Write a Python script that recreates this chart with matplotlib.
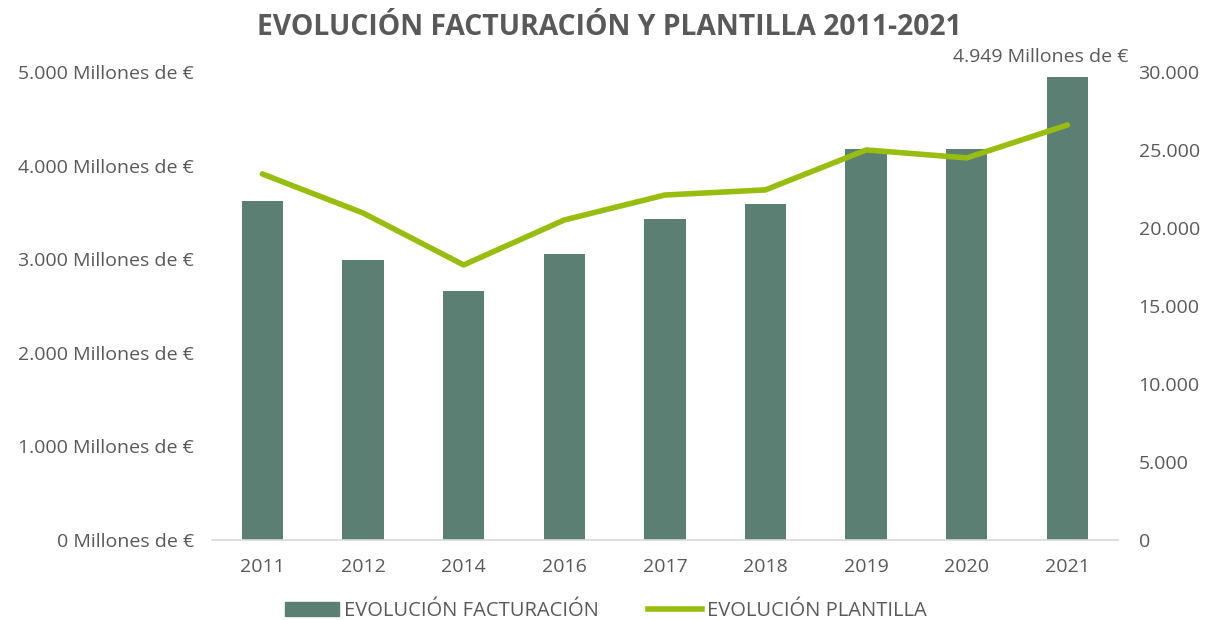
import matplotlib
matplotlib.use("Agg")
import matplotlib.pyplot as plt
from matplotlib.ticker import FuncFormatter
from matplotlib.lines import Line2D
from matplotlib.patches import Patch

years = ["2011", "2012", "2014", "2016", "2017", "2018", "2019", "2020", "2021"]
facturacion = [3622, 2991, 2660, 3056, 3429, 3590, 4177, 4177, 4949]
plantilla = [23460, 20960, 17630, 20510, 22110, 22440, 25000, 24490, 26600]
left_ticks = [0, 1000, 2000, 3000, 4000, 5000]
right_ticks = [0, 5000, 10000, 15000, 20000, 25000, 30000]

BAR = "#5B7F72"
LINE = "#97BD0E"
TXT = "#595959"
FONT = "Open Sans"
plt.rcParams['font.family'] = [FONT, 'DejaVu Sans']

def fmt(v):
    return f"{int(v):,}".replace(",", ".")

fig = plt.figure(figsize=(12.07, 6.2), dpi=100)
ax = fig.add_axes([0.1757, 0.129, 0.7503, 0.755])
ax2 = ax.twinx()

x = list(range(len(years)))
ax.bar(x, facturacion, width=0.41, color=BAR, zorder=2)
ax2.plot(x, plantilla, color=LINE, lw=4, solid_capstyle='round', zorder=3)

ax.set_xlim(-0.5, len(years) - 0.5)
ax.set_ylim(0, 5000)
ax2.set_ylim(0, 30000)
ax.set_yticks(left_ticks)
ax2.set_yticks(right_ticks)
ax.yaxis.set_major_formatter(FuncFormatter(lambda v, p: f"{fmt(v)} Millones de €"))
ax2.yaxis.set_major_formatter(FuncFormatter(lambda v, p: fmt(v)))
ax.set_xticks(x)
ax.set_xticklabels(years)

for a in (ax, ax2):
    for s in a.spines.values():
        s.set_visible(False)
    a.tick_params(length=0, labelsize=14, labelcolor=TXT)
ax.spines['bottom'].set_visible(True)
ax.spines['bottom'].set_color("#D9D9D9")
ax.spines['bottom'].set_linewidth(1.2)
ax.tick_params(axis='x', pad=13)
ax.tick_params(axis='y', pad=13)
ax2.tick_params(axis='y', pad=15)
ax2.patch.set_visible(False)

ax.annotate(f"{fmt(facturacion[-1])} Millones de €", xy=(x[-1], facturacion[-1]),
            xytext=(-19, 8), textcoords='offset points', ha='center', va='bottom',
            fontsize=14, color=TXT)

fig.text(0.505, 0.956, "EVOLUCIÓN FACTURACIÓN Y PLANTILLA 2011-2021", ha='center', va='center',
         fontsize=20.3, fontweight='bold', color=TXT)

handles = [Patch(color=BAR), Line2D([0], [0], color=LINE, lw=4)]
fig.legend(handles, ["EVOLUCIÓN FACTURACIÓN", "EVOLUCIÓN PLANTILLA"], loc='center',
           bbox_to_anchor=(0.502, 0.015), ncol=2, frameon=False, fontsize=14.5,
           labelcolor=TXT, handlelength=2.7, handletextpad=0.25, columnspacing=2.4)

fig.savefig("out.png", dpi=100)
